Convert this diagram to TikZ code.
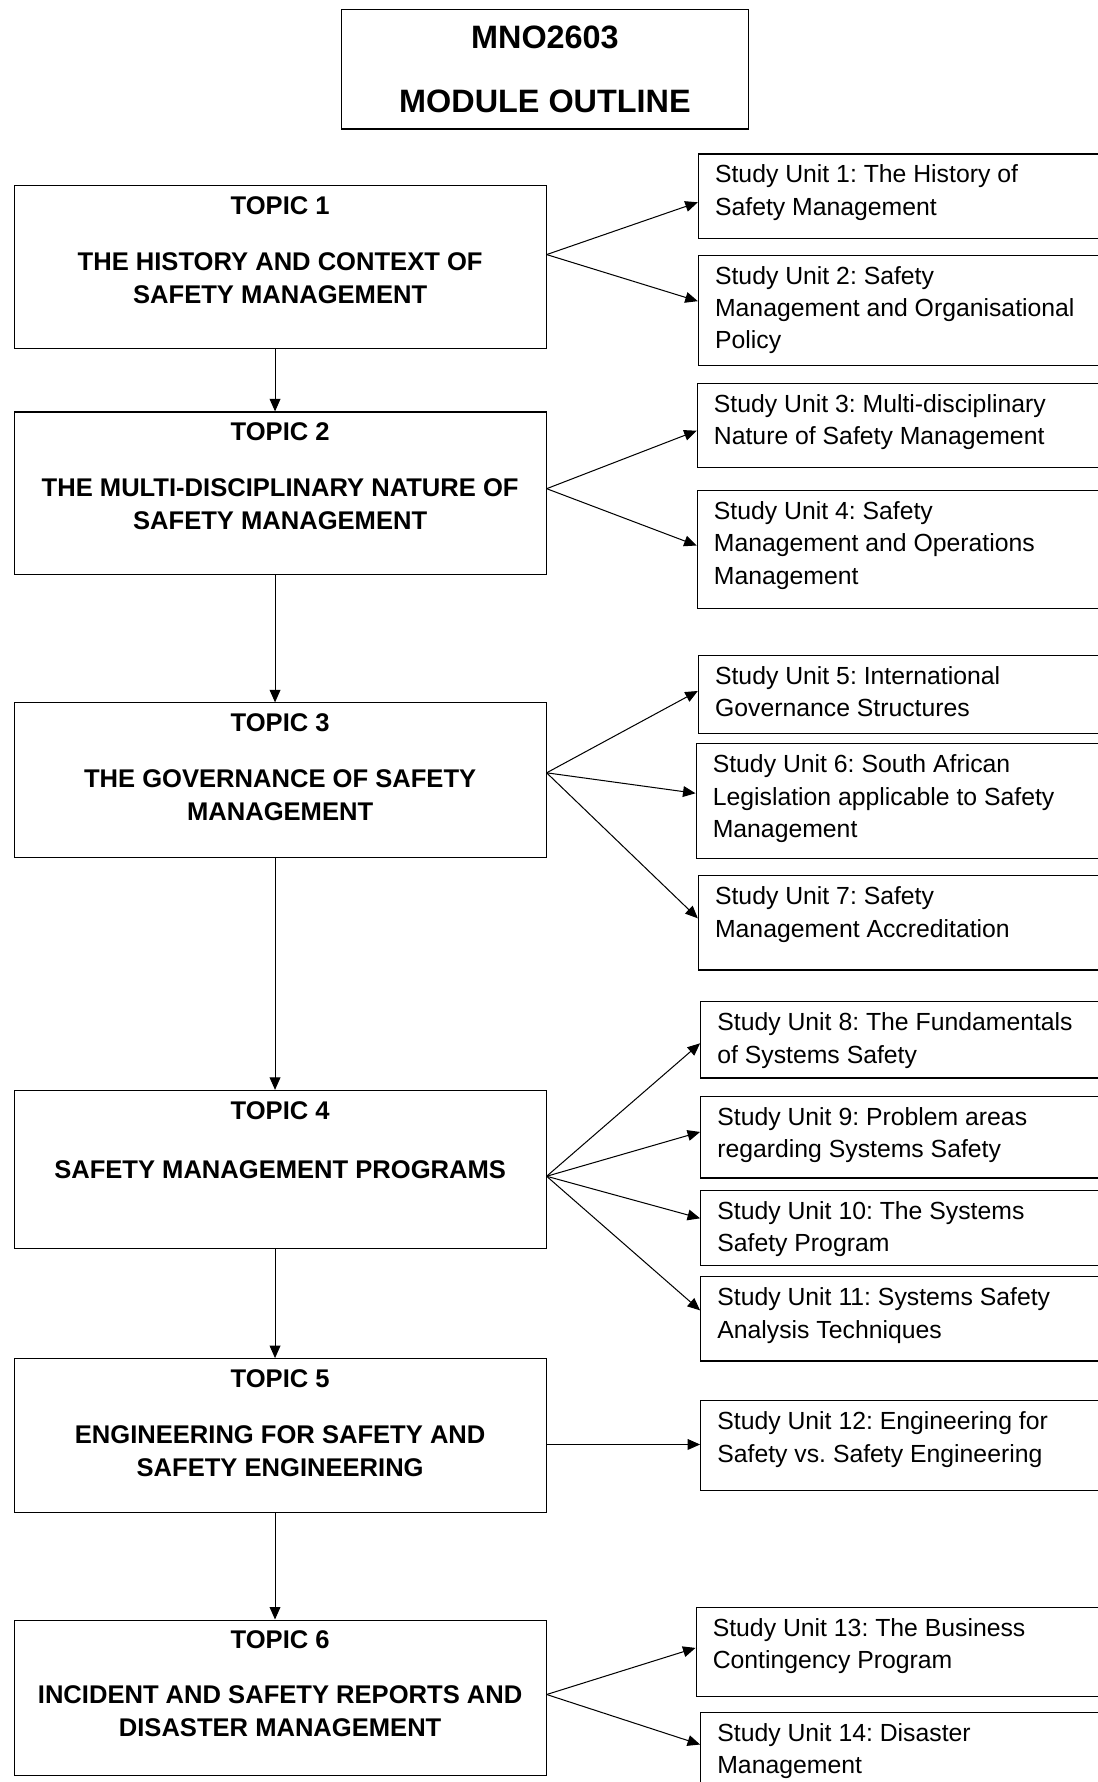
\documentclass[tikz,border=0pt]{standalone}
\usepackage{fontspec}
\setmainfont{Liberation Sans}
\usetikzlibrary{calc}
\usetikzlibrary{arrows.meta}
\frenchspacing

\begin{document}
\begin{tikzpicture}[x=1pt, y=-1pt,
		topicbox/.style={draw, line width=1pt, minimum width=468pt, anchor=north west, inner sep=0pt},
		topictext/.style={anchor=north, align=center, inner sep=0pt, font=\fontsize{22.5}{29}\selectfont\bfseries},
		unitbox/.style={draw, line width=1pt, minimum width=420pt, anchor=north west, inner sep=0pt},
		unittext/.style={anchor=north west, align=left, inner sep=0pt, font=\fontsize{21.8}{28.5}\selectfont},
		link/.style={-{Triangle[length=11pt,width=9.5pt]}, line width=0.9pt}]
		\clip (0,0) rectangle (966,1568);

		% Title
		\node[draw, line width=1pt, minimum width=358pt, minimum height=105pt, anchor=north west] (title) at (300,8) {};
		\node[anchor=north, align=center, inner sep=0pt, font=\fontsize{28.5}{56}\selectfont\bfseries] (titletxt) at ($(title.north)+(0,15)$) {MNO2603\\MODULE OUTLINE};

		% Topics
		\node[topicbox, minimum height=143pt] (t1) at (12,163) {};
		\node[topictext] (t1txt) at ($(t1.north)+(0,10)$) {TOPIC 1\\[20pt]THE HISTORY AND CONTEXT OF\\SAFETY MANAGEMENT};
		\node[topicbox, minimum height=143pt] (t2) at (12,362) {};
		\node[topictext] (t2txt) at ($(t2.north)+(0,10)$) {TOPIC 2\\[20pt]THE MULTI-DISCIPLINARY NATURE OF\\SAFETY MANAGEMENT};
		\node[topicbox, minimum height=136pt] (t3) at (12,618) {};
		\node[topictext] (t3txt) at ($(t3.north)+(0,10)$) {TOPIC 3\\[20pt]THE GOVERNANCE OF SAFETY\\MANAGEMENT};
		\node[topicbox, minimum height=139pt] (t4) at (12,959) {};
		\node[topictext] (t4txt) at ($(t4.north)+(0,10)$) {TOPIC 4\\[23pt]SAFETY MANAGEMENT PROGRAMS};
		\node[topicbox, minimum height=135pt] (t5) at (12,1195) {};
		\node[topictext] (t5txt) at ($(t5.north)+(0,10)$) {TOPIC 5\\[20pt]ENGINEERING FOR SAFETY AND\\SAFETY ENGINEERING};
		\node[topicbox, minimum height=137pt] (t6) at (12,1425) {};
		\node[topictext] (t6txt) at ($(t6.north)+(0,10)$) {TOPIC 6\\[19pt]INCIDENT AND SAFETY REPORTS AND\\DISASTER MANAGEMENT};

		% Study units
		\node[unitbox, minimum height=74pt] (s1) at (614,135) {};
		\node[unittext] (s1txt) at ($(s1.north west)+(15,10)$) {Study Unit 1: The History of\\Safety Management};
		\node[unitbox, minimum height=97pt] (s2) at (614,224) {};
		\node[unittext] (s2txt) at ($(s2.north west)+(15,10)$) {Study Unit 2: Safety\\Management and Organisational\\Policy};
		\node[unitbox, minimum height=74pt] (s3) at (613,337) {};
		\node[unittext] (s3txt) at ($(s3.north west)+(15,10)$) {Study Unit 3: Multi-disciplinary\\Nature of Safety Management};
		\node[unitbox, minimum height=104pt] (s4) at (613,431) {};
		\node[unittext] (s4txt) at ($(s4.north west)+(15,10)$) {Study Unit 4: Safety\\Management and Operations\\Management};
		\node[unitbox, minimum height=69pt] (s5) at (614,576) {};
		\node[unittext] (s5txt) at ($(s5.north west)+(15,10)$) {Study Unit 5: International\\Governance Structures};
		\node[unitbox, minimum height=101pt] (s6) at (612,654) {};
		\node[unittext] (s6txt) at ($(s6.north west)+(15,10)$) {Study Unit 6: South African\\Legislation applicable to Safety\\Management};
		\node[unitbox, minimum height=83pt] (s7) at (614,770) {};
		\node[unittext] (s7txt) at ($(s7.north west)+(15,10)$) {Study Unit 7: Safety\\Management Accreditation};
		\node[unitbox, minimum height=67pt] (s8) at (616,881) {};
		\node[unittext] (s8txt) at ($(s8.north west)+(15,10)$) {Study Unit 8: The Fundamentals\\of Systems Safety};
		\node[unitbox, minimum height=72pt] (s9) at (616,964) {};
		\node[unittext] (s9txt) at ($(s9.north west)+(15,10)$) {Study Unit 9: Problem areas\\regarding Systems Safety};
		\node[unitbox, minimum height=66pt] (s10) at (616,1047) {};
		\node[unittext] (s10txt) at ($(s10.north west)+(15,10)$) {Study Unit 10: The Systems\\Safety Program};
		\node[unitbox, minimum height=74pt] (s11) at (616,1123) {};
		\node[unittext] (s11txt) at ($(s11.north west)+(15,10)$) {Study Unit 11: Systems Safety\\Analysis Techniques};
		\node[unitbox, minimum height=79pt] (s12) at (616,1232) {};
		\node[unittext] (s12txt) at ($(s12.north west)+(15,10)$) {Study Unit 12: Engineering for\\Safety vs. Safety Engineering};
		\node[unitbox, minimum height=78pt] (s13) at (612,1414) {};
		\node[unittext] (s13txt) at ($(s13.north west)+(15,10)$) {Study Unit 13: The Business\\Contingency Program};
		\node[unitbox, minimum height=80pt] (s14) at (616,1506) {};
		\node[unittext] (s14txt) at ($(s14.north west)+(15,10)$) {Study Unit 14: Disaster\\Management};

		% Topic to topic
		\draw[link] (t1.south -| 242,0) -- (t2.north -| 242,0);
		\draw[link] (t2.south -| 242,0) -- (t3.north -| 242,0);
		\draw[link] (t3.south -| 242,0) -- (t4.north -| 242,0);
		\draw[link] (t4.south -| 242,0) -- (t5.north -| 242,0);
		\draw[link] (t5.south -| 242,0) -- (t6.north -| 242,0);

		% Topic to study units
		\draw[link] (t1.east |- 0,224) -- (s1.west |- 0,178);
		\draw[link] (t1.east |- 0,224) -- (s2.west |- 0,265);
		\draw[link] (t2.east |- 0,430) -- (s3.west |- 0,379);
		\draw[link] (t2.east |- 0,430) -- (s4.west |- 0,480);
		\draw[link] (t3.east |- 0,680) -- (s5.west |- 0,608);
		\draw[link] (t3.east |- 0,680) -- (s6.west |- 0,698);
		\draw[link] (t3.east |- 0,680) -- (s7.west |- 0,808);
		\draw[link] (t4.east |- 0,1035) -- (s8.west |- 0,918);
		\draw[link] (t4.east |- 0,1035) -- (s9.west |- 0,996);
		\draw[link] (t4.east |- 0,1035) -- (s10.west |- 0,1072);
		\draw[link] (t4.east |- 0,1035) -- (s11.west |- 0,1153);
		\draw[link] (t5.east |- 0,1271) -- (s12.west |- 0,1271);
		\draw[link] (t6.east |- 0,1491) -- (s13.west |- 0,1450);
		\draw[link] (t6.east |- 0,1491) -- (s14.west |- 0,1535);
	\end{tikzpicture}
\end{document}
